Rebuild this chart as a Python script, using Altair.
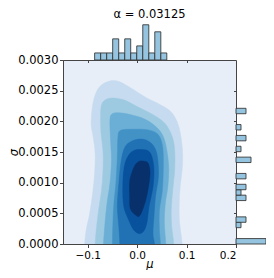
import altair as alt
import pandas as pd

# ---- KDE contour outlines (outer -> inner): (mu, sigma)
c1_mu = [-0.106, -0.103, -0.096, -0.090, -0.086, -0.085, -0.089, -0.093, -0.091, -0.085, -0.074, -0.054, -0.037,
         -0.020, 0.000, 0.020, 0.047, 0.068, 0.081, 0.088, 0.092, 0.091, 0.087, 0.085, 0.086, 0.091]
c1_sg = [0, 0.00023, 0.00050, 0.00083, 0.00115, 0.00148, 0.00175, 0.00194, 0.00221, 0.00243, 0.00258, 0.00266,
         0.00265, 0.00258, 0.00248, 0.00238, 0.00227, 0.00216, 0.00199, 0.00178, 0.00148, 0.00121, 0.00093,
         0.00061, 0.00034, 0]
c2_mu = [-0.085, -0.082, -0.078, -0.072, -0.069, -0.069, -0.073, -0.074, -0.072, -0.064, -0.051, -0.027, 0.000,
         0.034, 0.057, 0.071, 0.076, 0.076, 0.072, 0.069, 0.070, 0.074]
c2_sg = [0, 0.00028, 0.00055, 0.00088, 0.00121, 0.00151, 0.00180, 0.00208, 0.00227, 0.00235, 0.00238, 0.00235,
         0.00224, 0.00210, 0.00196, 0.00175, 0.00153, 0.00121, 0.00088, 0.00055, 0.00028, 0]
c3_mu = [-0.068, -0.065, -0.061, -0.055, -0.052, -0.054, -0.055, -0.051, -0.037, -0.014, 0.017, 0.041, 0.054,
         0.061, 0.064, 0.062, 0.057, 0.055, 0.058]
c3_sg = [0, 0.00034, 0.00066, 0.00099, 0.00137, 0.00172, 0.00202, 0.00212, 0.00214, 0.00211, 0.00203, 0.00189,
         0.00173, 0.00148, 0.00121, 0.00093, 0.00066, 0.00034, 0]
c4_mu = [-0.050, -0.049, -0.047, -0.043, -0.040, -0.039, -0.034, -0.007, 0.022, 0.042, 0.051, 0.053, 0.051,
         0.045, 0.045, 0.047]
c4_sg = [0, 0.00034, 0.00066, 0.00099, 0.00142, 0.00172, 0.00185, 0.00187, 0.00186, 0.00179, 0.00161, 0.00132,
         0.00088, 0.00055, 0.00023, 0]
c5_mu = [-0.035, -0.037, -0.040, -0.037, -0.032, -0.024, -0.010, 0.007, 0.022, 0.034, 0.041, 0.043, 0.037,
         0.034, 0.032, 0.035]
c5_sg = [0, 0.00028, 0.00061, 0.00099, 0.00137, 0.00159, 0.00168, 0.00171, 0.00168, 0.00159, 0.00142, 0.00110,
         0.00077, 0.00045, 0.00017, 0]
c6_mu = [0.007, 0.022, 0.030, 0.034, 0.032, 0.024, 0.020, 0.014, 0.005, -0.007, -0.017, -0.027, -0.029, -0.026,
         -0.017, -0.005]
c6_sg = [0.00154, 0.00152, 0.00142, 0.00121, 0.00093, 0.00061, 0.00036, 0.00022, 0.00017, 0.00023, 0.00039,
         0.00061, 0.00093, 0.00126, 0.00145, 0.00153]
c7_mu = [0.0135, 0.022, 0.026, 0.024, 0.019, 0.012, 0.005, -0.001, -0.0135, -0.015, -0.015, -0.010, -0.003, 0.005]
c7_sg = [0.00135, 0.00132, 0.00118, 0.00099, 0.00077, 0.00058, 0.00046, 0.00046, 0.00057, 0.00077, 0.00102,
         0.00118, 0.00130, 0.00135]

contours = [(c1_mu, c1_sg), (c2_mu, c2_sg), (c3_mu, c3_sg), (c4_mu, c4_sg),
            (c5_mu, c5_sg), (c6_mu, c6_sg), (c7_mu, c7_sg)]
level_colors = ["#c6dbef", "#9ecae1", "#6baed6", "#4292c6", "#2171b5", "#08519c", "#08306b"]
bg_color = "#e7eef8"

# ---- marginal histogram of mu (top)
mu_edges = [-0.0860, -0.0738, -0.0616, -0.0495, -0.0373, -0.0251, -0.0130, -0.0008,
            0.0114, 0.0236, 0.0357, 0.0479, 0.0600]
mu_counts = [1, 1, 1, 3, 1, 3, 1, 2, 5, 1, 4, 1]

# ---- marginal histogram of sigma (right)
sigma_bin = 0.0000885
sigma_lo = [0, 0.000266, 0.000354, 0.000708, 0.000797, 0.000885, 0.001062, 0.001328,
            0.001505, 0.001682, 0.001859, 0.002124]
sigma_counts = [6, 1, 2, 2, 1, 2, 2, 3, 1, 2, 1, 2]

title_text = "α = 0.03125"
x_ticks = [-0.1, 0.0, 0.1, 0.2]
y_ticks = [0, 0.0005, 0.001, 0.0015, 0.002, 0.0025, 0.003]

FONT = "DejaVu Sans"
AX = "#444444"
W, H = 173, 184
TOP_H, RIGHT_W = 37, 30

xscale = alt.Scale(domain=[-0.15, 0.2], nice=False, zero=False)
yscale = alt.Scale(domain=[0, 0.003], nice=False, zero=False)

main_x_axis = alt.Axis(values=x_ticks, format=".1f", title="μ", grid=False, domainColor=AX, tickColor=AX,
                       tickSize=3.5, labelPadding=3, labelFont=FONT, labelFontSize=10.5, labelColor="black",
                       titleFont=FONT, titleFontSize=11.5, titleFontWeight="normal", titleFontStyle="italic",
                       titleColor="black", titlePadding=-3, zindex=1)
main_y_axis = alt.Axis(values=y_ticks, format=".4f", title="σ", grid=False, domainColor=AX, tickColor=AX,
                       tickSize=3.5, labelPadding=1.5, labelFont=FONT, labelFontSize=11.5, labelColor="black",
                       titleFont=FONT, titleFontSize=11.5, titleFontWeight="normal", titleFontStyle="italic",
                       titleColor="black", titlePadding=-2, zindex=1)
top_ticks_axis = alt.Axis(orient="top", values=[-0.1, 0.0, 0.1], labels=False, domain=False, grid=False,
                          title=None, tickColor=AX, tickSize=2.5, offset=-2.5, zindex=1)
right_ticks_axis = alt.Axis(orient="right", values=[0.0005, 0.001, 0.0015, 0.002, 0.0025], labels=False,
                            domain=False, grid=False, title=None, tickColor=AX, tickSize=2.5, offset=-2.5,
                            zindex=1)

layers = []
n_levels = len(contours)
for k, ((mus, sgs), col) in enumerate(zip(contours, level_colors)):
    mus = list(mus)
    sgs = list(sgs)
    if sgs[0] == 0 and sgs[-1] == 0:
        # region cut by the sigma = 0 edge: close it below the axis (clipped away)
        mus = mus + [mus[-1], mus[0]]
        sgs = sgs + [-0.0003, -0.0003]
    df = pd.DataFrame({"mu": mus, "sigma": sgs, "i": list(range(len(mus)))})
    if k == 0:
        xa, ya = main_x_axis, main_y_axis
    elif k == n_levels - 1:
        xa, ya = top_ticks_axis, right_ticks_axis
    else:
        xa, ya = None, None
    layers.append(
        alt.Chart(df).mark_line(fill=col, stroke=col, strokeWidth=0.5, interpolate="cardinal-closed",
                                clip=True).encode(
            x=alt.X("mu:Q", scale=xscale, axis=xa),
            y=alt.Y("sigma:Q", scale=yscale, axis=ya),
            order=alt.Order("i:Q"),
        )
    )

main = alt.layer(*layers).resolve_axis(x="independent", y="independent").properties(
    width=W, height=H,
    view=alt.ViewBackground(fill=bg_color, stroke=AX, strokeWidth=1),
)

top_df = pd.DataFrame({"lo": mu_edges[:-1], "hi": mu_edges[1:], "count": mu_counts})
top_df["base"] = 0
top = alt.Chart(top_df).mark_rect(fill="#94c4df", stroke="#333333", strokeWidth=1, strokeOpacity=0.85).encode(
    x=alt.X("lo:Q", scale=xscale, axis=None),
    x2="hi:Q",
    y=alt.Y("count:Q", scale=alt.Scale(domain=[0, 5.25], nice=False), axis=None),
    y2="base:Q",
).properties(
    width=W, height=TOP_H,
    title=alt.TitleParams(title_text, font=FONT, fontSize=11.5, fontWeight="normal", color="black",
                          anchor="middle", offset=3),
)

right_df = pd.DataFrame({"lo": sigma_lo, "count": sigma_counts})
right_df["hi"] = right_df["lo"] + sigma_bin
right_df["base"] = 0
right = alt.Chart(right_df).mark_rect(fill="#94c4df", stroke="#333333", strokeWidth=1, strokeOpacity=0.85).encode(
    y=alt.Y("lo:Q", scale=yscale, axis=None),
    y2="hi:Q",
    x=alt.X("count:Q", scale=alt.Scale(domain=[0, 6], nice=False), axis=None),
    x2="base:Q",
).properties(width=RIGHT_W, height=H)

bottom_row = alt.hconcat(main, right, spacing=0, bounds="flush")
chart = alt.vconcat(top, bottom_row, spacing=0, bounds="flush").properties(
    padding={"left": 0, "top": 0, "right": -1, "bottom": 0}
).configure_view(strokeWidth=0)

chart.save("out.html", embed_options={"renderer": "svg", "actions": False})
